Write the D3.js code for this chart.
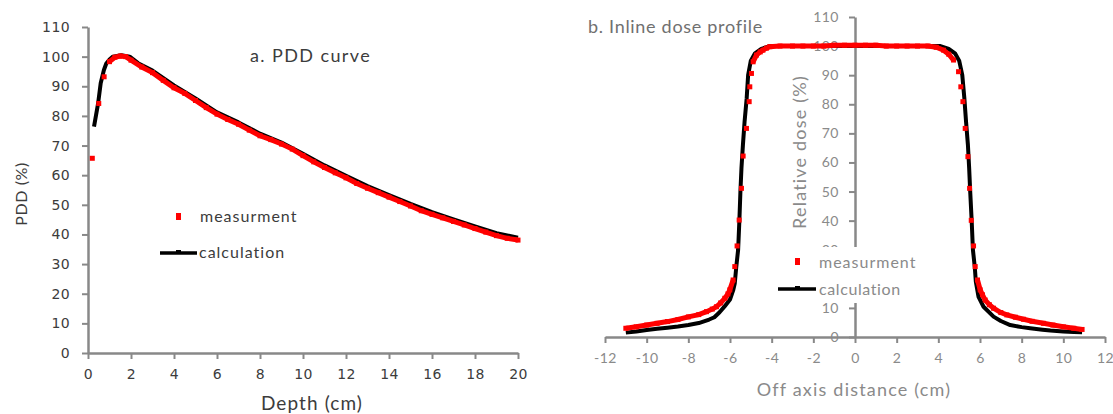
<!DOCTYPE html>
<html>
<head>
<meta charset="utf-8">
<script src="https://cdn.jsdelivr.net/npm/d3@7"></script>
<style>
  body { margin: 0; background: #fff; }
  svg { display: block; font-family: Lato, "Open Sans", sans-serif; }
</style>
</head>
<body>
<div id="chart"></div>
<script>
// ---- a. PDD curve ----
const pddMeasDepth = [0.2, 0.5, 0.75, 1.0, 1.25, 1.5, 1.75, 2.0, 2.5, 3.0, 3.5, 4.0, 4.5, 5.0, 5.5, 6.0, 6.5, 7.0, 7.5, 8.0,
  8.5, 9.0, 9.5, 10.0, 10.5, 11.0, 11.5, 12.0, 12.5, 13.0, 13.5, 14.0, 14.5, 15.0, 15.5, 16.0, 16.5, 17.0, 17.5, 18.0,
  18.5, 19.0, 19.5, 20.0];
const pddMeas = [65.7, 84.2, 93.2, 98.3, 99.8, 100.2, 100.0, 98.8, 96.5, 94.6, 92.0, 89.5, 87.6, 85.2, 82.8, 80.6, 78.8, 77.2, 75.2, 73.3,
  72.0, 70.5, 68.8, 66.6, 64.5, 62.6, 60.8, 59.1, 57.2, 55.6, 54.1, 52.6, 51.1, 49.6, 48.0, 46.8, 45.6, 44.4, 43.2, 42.0,
  40.8, 39.6, 38.7, 38.1];
const pddCalcDepth = [0.28, 0.47, 0.59, 0.74, 0.85, 1.0, 1.16, 1.55, 1.94, 2.33, 3.0, 4.0, 5.0, 6.0, 7.0, 8.0, 9.0, 10.0,
  11.0, 12.0, 13.0, 14.0, 15.0, 16.0, 17.0, 18.0, 19.0, 20.0];
const pddCalc = [76.4, 84.2, 91.0, 95.5, 97.7, 99.0, 100.0, 100.5, 100.0, 97.8, 95.3, 90.3, 85.9, 81.2, 77.8, 74.0, 71.0, 67.2,
  63.3, 59.8, 56.3, 53.3, 50.3, 47.5, 45.1, 42.7, 40.4, 38.9];
const pddXTicks = [0, 2, 4, 6, 8, 10, 12, 14, 16, 18, 20];
const yTicks = [0, 10, 20, 30, 40, 50, 60, 70, 80, 90, 100, 110];

// ---- b. Inline dose profile ----
const profMeasX = [-11, -10.5, -10, -9.5, -9, -8.5, -8, -7.5, -7.13, -6.85, -6.65, -6.45, -6.25, -6.1, -6.01, -5.85,
  -5.77, -5.66, -5.56, -5.45, -5.37, -5.21, -5.08, -5.05, -4.97, -4.89, -4.73, -4.55, -4.42, -4.25, -4.09, -3.6,
  -3.0, -2.5, -2.0, -1.5, -1.0, -0.5, 0, 0.5, 1.0, 1.5, 2.0, 2.5, 3.0, 3.5, 3.9, 4.25, 4.5, 4.73, 4.97,
  5.08, 5.18, 5.29, 5.42, 5.5, 5.58, 5.69, 5.77, 5.88, 6.01, 6.12, 6.25, 6.45, 6.65, 7.0, 7.29, 7.7, 8.09,
  8.5, 9.05, 9.5, 10.0, 10.5, 10.9];
const profMeas = [3.0, 3.5, 4.1, 4.7, 5.3, 6.0, 6.9, 7.7, 8.7, 9.6, 10.4, 11.7, 13.3, 14.8, 16.2, 19.6,
  24.2, 31.3, 40.2, 51.1, 62.2, 71.7, 80.9, 86.0, 90.6, 94.6, 96.9, 98.0, 98.6, 99.3, 99.8, 100.0,
  100.0, 100.0, 100.0, 100.0, 100.3, 100.3, 100.3, 100.3, 100.3, 100.0, 100.0, 100.0, 100.0, 100.0, 99.6, 98.6, 97.2, 95.2, 91.2,
  86.0, 80.9, 71.7, 62.0, 51.1, 40.1, 31.3, 24.2, 19.6, 16.2, 14.5, 12.7, 11.1, 9.9, 8.4, 7.6, 6.8, 6.1,
  5.4, 4.7, 4.1, 3.5, 3.0, 2.6];
const profCalcX = [-11, -10.5, -10, -9.5, -9, -8.5, -8, -7.5, -7, -6.75, -6.5, -6.25, -6.0, -5.85, -5.77, -5.7,
  -5.61, -5.55, -5.5, -5.45, -5.38, -5.3, -5.2, -5.13, -5.0, -4.8, -4.5, -4.1, 0, 4.1, 4.5, 4.8, 5.0,
  5.15, 5.25, 5.33, 5.42, 5.48, 5.53, 5.6, 5.66, 5.75, 5.8, 5.93, 6.17, 6.65, 7.0, 7.45, 8.0, 8.41, 9.0,
  9.38, 10.0, 10.5, 10.9];
const profCalc = [1.5, 1.9, 2.4, 2.8, 3.2, 3.6, 4.1, 4.8, 6.0, 6.8, 8.5, 10.6, 12.9, 16.0, 18.5, 24.0,
  30.0, 40.0, 50.0, 58.0, 66.0, 74.0, 82.0, 90.0, 95.0, 97.5, 99.0, 100.0, 100.0, 100.0, 99.0, 97.5, 95.0,
  90.0, 82.0, 74.0, 66.0, 58.0, 50.0, 40.0, 30.0, 24.0, 19.0, 13.8, 10.4, 7.0, 5.5, 4.1, 3.4, 3.0, 2.5,
  2.2, 1.9, 1.7, 1.6];
const profXTicks = [-12, -10, -8, -6, -4, -2, 0, 2, 4, 6, 8, 10, 12];
const profYTicks = [0, 10, 30, 40, 50, 60, 70, 80, 90, 100, 110]; // 20 sits under the legend box

const W = 1113, H = 414;
const axisColor = "#888888";

const svg = d3.select("#chart").append("svg")
  .attr("width", W)
  .attr("height", H);

// red measured points: squares, joined by a thick band where neighbours sit close together
function drawMeasured(g, xs, vs, x, y) {
  const pts = xs.map((d, i) => [x(d), y(vs[i])]);
  const runs = [];
  let cur = [pts[0]];
  for (let i = 1; i < pts.length; i++) {
    const dx = pts[i][0] - pts[i - 1][0], dy = pts[i][1] - pts[i - 1][1];
    if (Math.abs(dy) < 10.5 && dx < 14) cur.push(pts[i]);
    else { runs.push(cur); cur = [pts[i]]; }
  }
  runs.push(cur);
  g.append("g").selectAll("path")
    .data(runs.filter(r => r.length > 1))
    .join("path")
    .attr("d", d3.line())
    .attr("fill", "none")
    .attr("stroke", "#ff0000")
    .attr("stroke-width", 5);
  g.append("g").selectAll("rect")
    .data(pts)
    .join("rect")
    .attr("x", d => d[0] - 2.5)
    .attr("y", d => d[1] - 2.5)
    .attr("width", 5)
    .attr("height", 5)
    .attr("fill", "#ff0000");
}

function drawCalc(g, xs, vs, x, y) {
  g.append("path")
    .datum(xs.map((d, i) => [x(d), y(vs[i])]))
    .attr("d", d3.line())
    .attr("fill", "none")
    .attr("stroke", "#000")
    .attr("stroke-width", 4)
    .attr("stroke-linejoin", "round");
}

function styleAxis(sel, textColor, font, size, spacing) {
  sel.select(".domain").attr("stroke", axisColor).attr("stroke-width", 2.5);
  sel.selectAll(".tick line").attr("stroke", axisColor).attr("stroke-width", 2);
  sel.selectAll(".tick text").attr("fill", textColor)
    .attr("font-family", font).attr("font-size", size).attr("letter-spacing", spacing);
}

// ===== chart a =====
{
  const x = d3.scaleLinear().domain([0, 20]).range([88, 518]);
  const y = d3.scaleLinear().domain([0, 110]).range([353, 27]);
  const g = svg.append("g");
  const textColor = "#3c3c3c";

  g.append("g")
    .attr("transform", `translate(0,${y(0)})`)
    .call(d3.axisBottom(x).tickValues(pddXTicks).tickSize(6).tickSizeOuter(0).tickPadding(10))
    .call(s => styleAxis(s, textColor, "DejaVu Sans", 14, 0.4));
  g.append("g")
    .attr("transform", `translate(${x(0)},0)`)
    .call(d3.axisLeft(y).tickValues(yTicks).tickSize(6).tickSizeOuter(0).tickPadding(12))
    .call(s => styleAxis(s, textColor, "DejaVu Sans", 14, 0.4));

  drawCalc(g, pddCalcDepth, pddCalc, x, y);
  drawMeasured(g, pddMeasDepth, pddMeas, x, y);

  g.append("text").attr("x", 250).attr("y", 62).attr("font-size", 18).attr("letter-spacing", 1.4)
    .attr("fill", textColor).text("a. PDD curve");
  g.append("text").attr("x", 312).attr("y", 410).attr("text-anchor", "middle")
    .attr("font-size", 19).attr("letter-spacing", 1.1).attr("fill", textColor).text("Depth (cm)");
  g.append("text").attr("transform", "translate(27,194) rotate(-90)")
    .attr("text-anchor", "middle").attr("font-size", 16).attr("letter-spacing", 0.6)
    .attr("fill", textColor).text("PDD (%)");

  // legend
  g.append("rect").attr("x", 176).attr("y", 213).attr("width", 5).attr("height", 7).attr("fill", "#ff0000");
  g.append("text").attr("x", 200).attr("y", 222).attr("font-size", 16).attr("letter-spacing", 1)
    .attr("fill", textColor).text("measurment");
  g.append("line").attr("x1", 160).attr("x2", 197).attr("y1", 253).attr("y2", 253)
    .attr("stroke", "#000").attr("stroke-width", 3.5);
  g.append("rect").attr("x", 176).attr("y", 250).attr("width", 5).attr("height", 4).attr("fill", "#000");
  g.append("text").attr("x", 199).attr("y", 258).attr("font-size", 16).attr("letter-spacing", 1)
    .attr("fill", textColor).text("calculation");
}

// ===== chart b =====
{
  const x = d3.scaleLinear().domain([-12, 12]).range([605, 1105]);
  const y = d3.scaleLinear().domain([0, 110]).range([337, 17]);
  const g = svg.append("g");
  const textColor = "#8a8a8a";

  g.append("g")
    .attr("transform", `translate(0,${y(0)})`)
    .call(d3.axisBottom(x).tickValues(profXTicks).tickSize(6).tickSizeOuter(0).tickPadding(10)
      .tickFormat(d => String(d)))
    .call(s => styleAxis(s, textColor, "Lato", 14, 0.5));
  g.append("g")
    .attr("transform", `translate(${x(0)},0)`)
    .call(d3.axisLeft(y).tickValues(profYTicks).tickSize(6).tickSizeOuter(0).tickPadding(10))
    .call(s => styleAxis(s, textColor, "Lato", 14, 0.5));

  g.append("text").attr("transform", "translate(806,152) rotate(-90)")
    .attr("text-anchor", "middle").attr("font-size", 18).attr("letter-spacing", 1.2)
    .attr("fill", textColor).text("Relative dose (%)");

  drawCalc(g, profCalcX, profCalc, x, y);
  drawMeasured(g, profMeasX, profMeas, x, y);

  g.append("text").attr("x", 588).attr("y", 33).attr("font-size", 18).attr("letter-spacing", 0.7)
    .attr("fill", "#707070").text("b. Inline dose profile");
  g.append("text").attr("x", 854).attr("y", 396).attr("text-anchor", "middle")
    .attr("font-size", 18).attr("letter-spacing", 1.2).attr("fill", textColor).text("Off axis distance (cm)");

  // legend with white background
  g.append("rect").attr("x", 775).attr("y", 247).attr("width", 147).attr("height", 56).attr("fill", "#fff");
  g.append("rect").attr("x", 795).attr("y", 258).attr("width", 5).attr("height", 7).attr("fill", "#ff0000");
  g.append("text").attr("x", 819).attr("y", 268).attr("font-size", 16).attr("letter-spacing", 1)
    .attr("fill", textColor).text("measurment");
  g.append("line").attr("x1", 778).attr("x2", 816).attr("y1", 289).attr("y2", 289)
    .attr("stroke", "#000").attr("stroke-width", 3.5);
  g.append("rect").attr("x", 795).attr("y", 286).attr("width", 5).attr("height", 4).attr("fill", "#000");
  g.append("text").attr("x", 819).attr("y", 295).attr("font-size", 16).attr("letter-spacing", 0.6)
    .attr("fill", textColor).text("calculation");
}
</script>
</body>
</html>
